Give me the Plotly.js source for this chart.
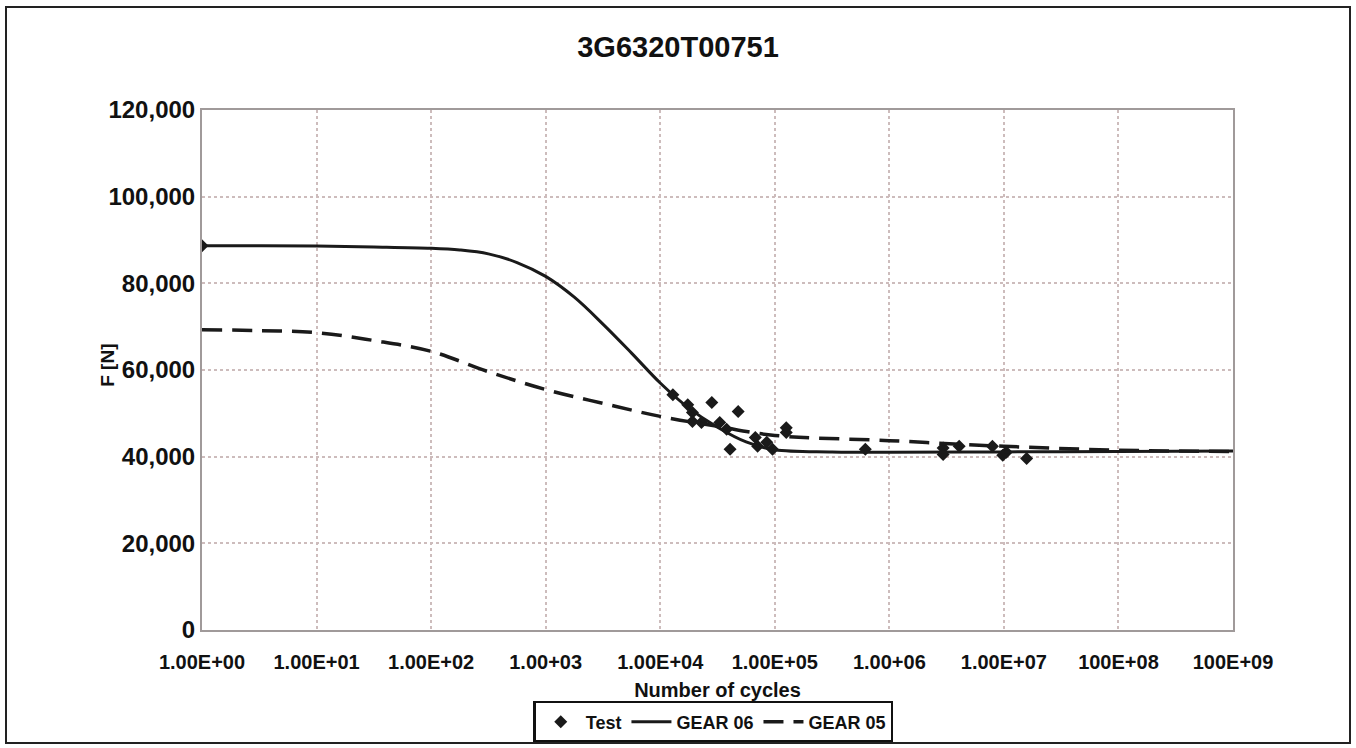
<!DOCTYPE html>
<html>
<head>
<meta charset="utf-8">
<script src="https://cdn.plot.ly/plotly-3.0.1.min.js"></script>
<style>
  html, body { margin: 0; padding: 0; background: #fff; }
  #chart { position: absolute; left: 0; top: 0; width: 1356px; height: 748px; }
  #frame { position: absolute; left: 5px; top: 6px; width: 1342px; height: 734px; border: 2px solid #222; pointer-events: none; }
</style>
</head>
<body>
<div id="chart"></div>
<div id="frame"></div>
<script>
// Test data (number of cycles, force N)
const testCycles = [1, 12900, 17400, 19100, 19100, 22900, 28200, 33100, 38000, 47900, 40700, 67600, 70800, 85100, 95500, 126000, 126000, 617000, 2950000, 2950000, 4070000, 7940000, 9770000, 10500000, 15800000];
const testForce  = [88700, 54300, 52000, 50200, 48100, 47900, 52500, 47900, 46300, 50400, 41700, 44400, 42400, 43300, 41700, 46700, 45600, 41700, 42000, 40500, 42400, 42400, 40300, 41000, 39600];

// GEAR 06 curve (solid)
const gear06Cycles = [1, 3.162, 10, 31.62, 100, 177.8, 316.2, 562.3, 1000, 1778, 3162, 5623, 10000, 17780, 31620, 56230, 100000, 316200, 1000000, 10000000, 100000000, 1000000000];
const gear06Force  = [88700, 88700, 88600, 88400, 88100, 87700, 86800, 84800, 81600, 76800, 70600, 63900, 57000, 51200, 46800, 43400, 41600, 41100, 41000, 41100, 41200, 41300];

// GEAR 05 curve (dashed)
const gear05Cycles = [1, 3.162, 10, 31.62, 100, 316.2, 1000, 3162, 10000, 31620, 100000, 1000000, 10000000, 100000000, 1000000000];
const gear05Force  = [69300, 69100, 68600, 66800, 64300, 59600, 55500, 52300, 49300, 47000, 44900, 43700, 42400, 41500, 41200];

// Axis ticks
const xTickVals = [1, 10, 100, 1000, 10000, 100000, 1000000, 10000000, 100000000, 1000000000];
const xTickText = ["1.00E+00", "1.00E+01", "1.00E+02", "1.00+03", "1.00E+04", "1.00E+05", "1.00+06", "1.00E+07", "100E+08", "100E+09"];
const yTickVals = [0, 20000, 40000, 60000, 80000, 100000, 120000];

const font = "Liberation Sans, Arial, Helvetica, sans-serif";

const traces = [
  { x: testCycles, y: testForce, name: "Test", type: "scatter", mode: "markers",
    marker: { symbol: "diamond", size: 10, color: "#1a1a1a" } },
  { x: gear06Cycles, y: gear06Force, name: "GEAR 06", type: "scatter", mode: "lines",
    line: { color: "#1a1a1a", width: 3, shape: "spline", smoothing: 1 } },
  { x: gear05Cycles, y: gear05Force, name: "GEAR 05", type: "scatter", mode: "lines",
    line: { color: "#1a1a1a", width: 3.5, dash: "20px,10px", shape: "spline", smoothing: 1 } }
];

const layout = {
  width: 1356, height: 748,
  paper_bgcolor: "#fff", plot_bgcolor: "#fff",
  margin: { l: 202, r: 123, t: 110, b: 118 },
  font: { family: font, color: "#111" },
  title: { text: "<b>3G6320T00751</b>", font: { size: 29, family: font, color: "#111" },
           x: 0.5, xref: "container", y: 0.937, yref: "container", yanchor: "middle" },
  xaxis: {
    type: "log", range: [0, 9], autorange: false, automargin: false,
    tickvals: xTickVals, ticktext: xTickText,
    tickfont: { size: 20, family: font, color: "#111", weight: "bold" },
    showgrid: true, gridcolor: "#cdbcbc", griddash: "dot", gridwidth: 2,
    showline: true, linecolor: "#a09a9a", linewidth: 2, mirror: true,
    ticks: "", zeroline: false, ticklabelstandoff: 13,
    title: { text: "<b>Number of cycles</b>", font: { size: 20, family: font, color: "#111" }, standoff: 22 }
  },
  yaxis: {
    range: [0, 120000], autorange: false, automargin: false,
    tickvals: yTickVals, tickformat: ",d",
    tickfont: { size: 24, family: font, color: "#111", weight: "bold" },
    showgrid: true, gridcolor: "#cdbcbc", griddash: "dot", gridwidth: 2,
    showline: true, linecolor: "#a09a9a", linewidth: 2, mirror: true,
    ticks: "", zeroline: false, ticklabelstandoff: 0
  },
  annotations: [
    { text: "<b>F [N]</b>", xref: "paper", yref: "paper", x: -0.0912, y: 0.51,
      xanchor: "center", yanchor: "middle", textangle: -90, showarrow: false,
      font: { size: 19, family: font, color: "#111" } }
  ],
  showlegend: true,
  legend: {
    orientation: "h", x: 0.526, xref: "container", xanchor: "center",
    y: 0.0348, yref: "container", yanchor: "middle",
    bgcolor: "#fff", bordercolor: "#111", borderwidth: 2.5,
    font: { size: 18, family: font, color: "#111", weight: "bold" },
    itemwidth: 40, tracegroupgap: 0
  }
};

Plotly.newPlot("chart", traces, layout, { displayModeBar: false, staticPlot: true });
</script>
</body>
</html>
